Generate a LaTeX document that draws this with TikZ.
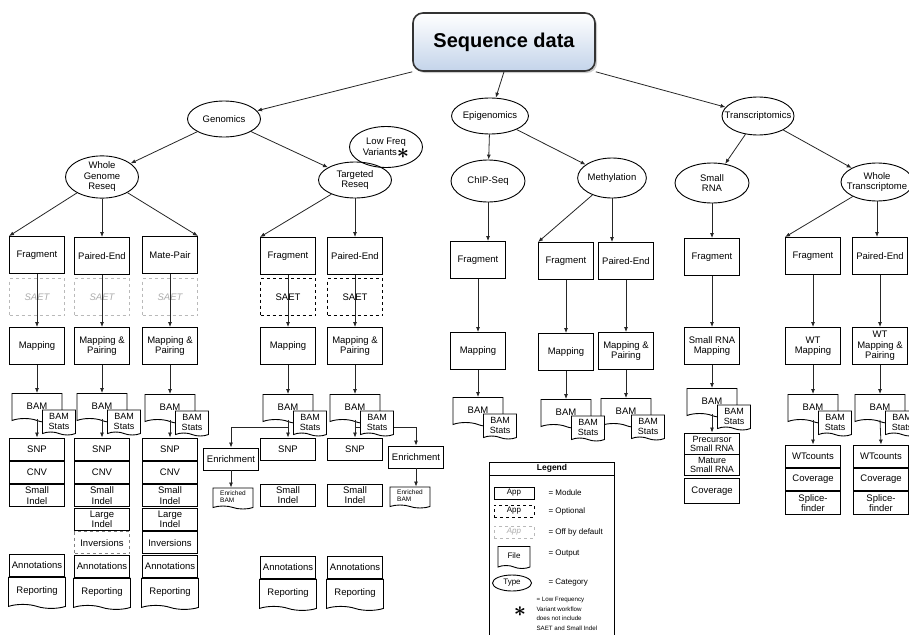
\documentclass[tikz,border=0pt]{standalone}
\usepackage{fontspec}
\usepackage{graphicx}
\setmainfont{Liberation Sans}
\usetikzlibrary{arrows.meta, positioning, shapes.geometric, shapes.symbols, shadows}

\newcommand{\lfstar}{\smash{\raisebox{-0.6ex}{\scalebox{2.3}{\boldmath$\ast$}}}}

\begin{document}
\begin{tikzpicture}[
        x = 1pt, y = -1pt,
        font = \fontsize{9.5}{10.5}\selectfont,
        >= {Latex[length = 5pt, width = 4pt]},
        conn/.style = {->, line width = 0.8pt, black!85},
        cat/.style = {ellipse, draw, line width = 0.9pt, inner sep = 0pt, minimum width = 73pt, minimum height = 38pt, align = center},
        app/.style = {rectangle, draw, line width = 0.9pt, fill = white, minimum width = 55pt, minimum height = 37pt, inner sep = 1pt, align = center},
        opt/.style = {app, dashed},
        off/.style = {opt, draw = gray!55, text = gray!65, font = \fontsize{9.5}{10.5}\selectfont\itshape},
        res/.style = {app, minimum height = 22pt},
        file/.style = {tape, draw, line width = 0.9pt, fill = white, tape bend top = none, tape bend bottom = out and in, tape bend height = 4pt, minimum width = 50pt, minimum height = 29pt, inner sep = 1pt, align = center},
        stats/.style = {file, minimum width = 33pt, minimum height = 25pt, tape bend height = 3pt, font = \fontsize{9}{10}\selectfont},
        key/.style = {minimum width = 40pt, minimum height = 12pt, inner sep = 0pt, font = \fontsize{8}{9}\selectfont},
        keytext/.style = {anchor = west, font = \fontsize{8}{9}\selectfont}
    ]
    \useasboundingbox (0,0) rectangle (909,634);

    % title and categories
    \node[draw = black!80, line width = 1.6pt, rounded corners = 10pt, top color = white, bottom color = {rgb,255:red,196;green,212;blue,234}, drop shadow = {shadow xshift = 2pt, shadow yshift = -2pt, opacity = 0.4}, minimum width = 182pt, minimum height = 58pt, font = \fontsize{20}{24}\selectfont\bfseries] (seq) at (504,42) {Sequence data};

    \node[cat, minimum width = 73pt, minimum height = 36pt] (gen) at (224,119) {Genomics};
    \node[cat, minimum height = 36pt] (epi) at (490,116) {Epigenomics};
    \node[cat, minimum width = 72pt] (trans) at (758,116) {\makebox[0pt]{Transcriptomics}};

    \node[cat, minimum height = 42pt] (wgr) at (102,177) {Whole\\Genome\\Reseq};
    \node[cat, minimum height = 41pt] (lfv) at (386,147) {Low Freq\\Variants\lfstar};
    \node[cat, minimum height = 36pt] (tgt) at (355,180) {Targeted\\Reseq};
    \node[cat, minimum width = 74pt, minimum height = 42pt] (chip) at (488,181) {ChIP-Seq};
    \node[cat, minimum width = 64pt, minimum height = 40pt] (meth) at (612,178) {Methylation};
    \node[cat, minimum width = 74pt, minimum height = 40pt] (srna) at (712,183) {Small\\RNA};
    \node[cat, minimum width = 72pt] (wt) at (877,182) {Whole\\\makebox[0pt]{Transcriptome}};

    % library types
    \node[app] (fragA) at (37,255) {Fragment};
    \node[app] (peB) at (102,256) {Paired-End};
    \node[app] (mateC) at (170,255) {Mate-Pair};
    \node[app] (fragD) at (288,256) {Fragment};
    \node[app] (peE) at (355,256) {Paired-End};
    \node[app] (fragF) at (478,260) {Fragment};
    \node[app] (fragG) at (566,261) {Fragment};
    \node[app] (peH) at (626,261) {Paired-End};
    \node[app] (fragI) at (712,257) {Fragment};
    \node[app] (fragJ) at (813,256) {Fragment};
    \node[app] (peK) at (880,256) {Paired-End};

    \node[off] (saetA) at (37,297) {SAET};
    \node[off] (saetB) at (102,297) {SAET};
    \node[off] (saetC) at (170,297) {SAET};
    \node[opt] (saetD) at (288,297) {SAET};
    \node[opt] (saetE) at (355,297) {SAET};

    % mapping
    \node[app] (mapA) at (37,346) {Mapping};
    \node[app] (mapB) at (102,346) {Mapping \&\\Pairing};
    \node[app] (mapC) at (170,346) {Mapping \&\\Pairing};
    \node[app] (mapD) at (288,346) {Mapping};
    \node[app] (mapE) at (355,346) {Mapping \&\\Pairing};
    \node[app] (mapF) at (478,351) {Mapping};
    \node[app] (mapG) at (566,352) {Mapping};
    \node[app] (mapH) at (626,351) {Mapping \&\\Pairing};
    \node[app] (mapI) at (712,346) {Small RNA\\Mapping};
    \node[app] (mapJ) at (813,346) {WT\\Mapping};
    \node[app] (mapK) at (880,346) {WT\\Mapping \&\\Pairing};

    \node[file] (bamA) at (37,406) {BAM};
    \node[file] (bamB) at (102,406) {BAM};
    \node[file] (bamC) at (170,407) {BAM};
    \node[file] (bamD) at (288,407) {BAM};
    \node[file] (bamE) at (355,407) {BAM};
    \node[file] (bamF) at (478,410) {BAM};
    \node[file] (bamG) at (566,412) {BAM};
    \node[file] (bamH) at (626,411) {BAM};
    \node[file] (bamI) at (712,401) {BAM};
    \node[file] (bamJ) at (813,407) {BAM};
    \node[file] (bamK) at (880,407) {BAM};

    % variant calling and the rest
    \node[res] (snpA) at (37,449) {SNP};
    \node[res] (cnvA) [below = 0.5pt of snpA] {CNV};
    \node[res] (sindA) [below = 0.5pt of cnvA] {Small\\Indel};
    \node[res] (annA) at (37,565) {Annotations};
    \node[file, minimum width = 57pt, minimum height = 31pt] (repA) [below = 0.5pt of annA] {Reporting};

    \node[res] (snpB) at (102,449) {SNP};
    \node[res] (cnvB) [below = 0.5pt of snpB] {CNV};
    \node[res] (sindB) [below = 0.5pt of cnvB] {Small\\Indel};
    \node[res] (lindB) [below = 0.5pt of sindB] {Large\\Indel};
    \node[res, dashed, draw = gray] (invB) [below = 0.5pt of lindB] {Inversions};
    \node[res] (annB) [below = 0.5pt of invB] {Annotations};
    \node[file, minimum width = 57pt, minimum height = 31pt] (repB) [below = 0.5pt of annB] {Reporting};

    \node[res] (snpC) at (170,449) {SNP};
    \node[res] (cnvC) [below = 0.5pt of snpC] {CNV};
    \node[res] (sindC) [below = 0.5pt of cnvC] {Small\\Indel};
    \node[res] (lindC) [below = 0.5pt of sindC] {Large\\Indel};
    \node[res] (invC) [below = 0.5pt of lindC] {Inversions};
    \node[res] (annC) [below = 0.5pt of invC] {Annotations};
    \node[file, minimum width = 57pt, minimum height = 31pt] (repC) [below = 0.5pt of annC] {Reporting};

    \node[res] (snpD) at (288,449) {SNP};
    \node[res] (sindD) at (288,495) {Small\\Indel};
    \node[res] (annD) at (288,567) {Annotations};
    \node[file, minimum width = 57pt, minimum height = 31pt] (repD) [below = 0.5pt of annD] {Reporting};

    \node[res] (snpE) at (355,449) {SNP};
    \node[res] (sindE) at (355,495) {Small\\Indel};
    \node[res] (annE) at (355,567) {Annotations};
    \node[file, minimum width = 57pt, minimum height = 31pt] (repE) [below = 0.5pt of annE] {Reporting};

    \node[res] (enrL) at (231,459) {Enrichment};
    \node[file, minimum width = 40pt, minimum height = 21pt, tape bend height = 3pt, font = \fontsize{6.5}{7}\selectfont, align = left] (ebamL) at (233,497) {Enriched\\BAM};
    \node[res] (enrR) at (416,457) {Enrichment};
    \node[file, minimum width = 40pt, minimum height = 21pt, tape bend height = 3pt, font = \fontsize{6.5}{7}\selectfont, align = left] (ebamR) at (410,496) {Enriched\\BAM};

    \node[res, minimum height = 21pt, font = \fontsize{9}{9}\selectfont] (preI) at (712,443.5) {Precursor\\Small RNA};
    \node[res, minimum height = 21pt, font = \fontsize{9}{9}\selectfont] (matI) [below = 0pt of preI] {Mature\\Small RNA};
    \node[res, minimum height = 25pt] (covI) [below = 1.5pt of matI] {Coverage};

    \node[res] (wtcJ) at (813,456) {WTcounts};
    \node[res] (covJ) [below = 0.5pt of wtcJ] {Coverage};
    \node[res, minimum height = 23pt] (splJ) [below = 0.5pt of covJ] {Splice-\\finder};
    \node[res] (wtcK) at (881,456) {WTcounts};
    \node[res] (covK) [below = 0.5pt of wtcK] {Coverage};
    \node[res, minimum height = 23pt] (splK) [below = 0.5pt of covK] {Splice-\\finder};

    % connectors
    \path[conn]
        (seq.south west) edge (gen)
        (seq.south) edge (epi)
        (seq.south east) edge (trans)
        (gen) edge (wgr)
        (gen) edge (tgt)
        (epi) edge (chip)
        (epi) edge (meth)
        (trans) edge (srna)
        (trans) edge (wt)
        (wgr) edge (fragA.north west)
        (wgr) edge (peB)
        (wgr) edge (mateC.north east)
        (tgt) edge (fragD.north west)
        (tgt.south) edge (peE.north)
        (chip.south) edge (chip.south |- fragF.north)
        (meth) edge (fragG.north west)
        (meth.south) edge (meth.south |- peH.north)
        (srna) edge (fragI)
        (wt) edge (fragJ.north west)
        (wt.south) edge (wt.south |- peK.north);

    \foreach \c in {A, D, F, G, J} {
        \draw[conn] (frag\c.south) -- (map\c.north);
    }
    \draw[conn] (peB.south) -- (mapB.north);
    \draw[conn] (mateC.south) -- (mapC.north);
    \draw[conn] (peE.south) -- (mapE.north);
    \draw[conn] (peH.south) -- (mapH.north);
    \draw[conn] (fragI.south) -- (mapI.north);
    \draw[conn] (peK.south) -- (mapK.north);

    \foreach \c in {A, B, C, D, E, F, G, H, I, J, K} {
        \draw[conn] (map\c.south) -- (bam\c.north);
    }
    \foreach \c in {A, B, C, D, E} {
        \draw[conn] (bam\c.south) -- (snp\c.north);
    }
    \draw[conn] (bamI.south) -- (preI.north);
    \draw[conn] (bamJ.south) -- (wtcJ.north);
    \draw[conn] (bamK.south) -- (wtcK.north);

    \coordinate (jD) at ([yshift = -7pt]bamD.south);
    \coordinate (jE) at ([yshift = -7pt]bamE.south);
    \draw[conn] (jD) -| (enrL.north);
    \draw[conn] (jE) -| (enrR.north);
    \draw[conn] (enrL.south) -- (enrL.south |- ebamL.north);
    \draw[conn] (enrR.south) -- (enrR.south |- ebamR.north);

    % BAM stats on top
    \foreach \c in {A, B, C, D, E, F, G, H, I, J, K} {
        \node[stats] (stats\c) at ([shift = {(22,15)}]bam\c) {BAM\\Stats};
    }

    % legend
    \node[draw, line width = 0.9pt, minimum width = 125pt, minimum height = 185pt, anchor = north west] (legend) at (489,462) {};
    \node[font = \fontsize{8.5}{10}\selectfont\bfseries] (legtitle) at (552,468.5) {Legend};
    \draw[line width = 0.9pt] ([yshift = -13pt]legend.north west) -- ([yshift = -13pt]legend.north east);

    \node[app, key] (kApp) at (514,493) {App};
    \node[keytext] (kAppTxt) at (545,493) {= Module};
    \node[opt, key] (kOpt) at (514,511) {App};
    \node[keytext] (kOptTxt) at (545,511) {= Optional};
    \node[off, key, font = \fontsize{8}{9}\selectfont\itshape] (kOff) at (514,532) {App};
    \node[keytext] (kOffTxt) at (545,532) {= Off by default};
    \node[file, minimum width = 32pt, minimum height = 22pt, tape bend height = 3pt, font = \fontsize{8}{9}\selectfont] (kFile) at (514,556) {File};
    \node[keytext] (kFileTxt) at (545,554) {= Output};
    \node[cat, minimum width = 39pt, minimum height = 16pt, font = \fontsize{8}{9}\selectfont] (kType) at (512,583) {Type};
    \node[keytext] (kTypeTxt) at (545,583) {= Category};
    \node (kStar) at (520,613) {\lfstar};
    \node[anchor = west, align = left, font = \fontsize{6.2}{9.5}\selectfont] (kStarTxt) at (533,614) {= Low Frequency\\Variant workflow\\does not include\\SAET and Small Indel};
\end{tikzpicture}
\end{document}
